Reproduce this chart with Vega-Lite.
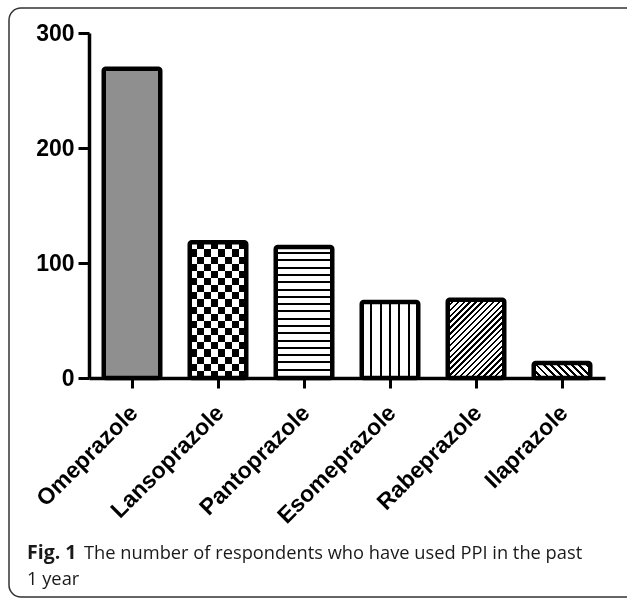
{
  "$schema": "https://vega.github.io/schema/vega-lite/v6.json",
  "width": 630,
  "height": 589,
  "autosize": {"type": "none"},
  "padding": {"left": 9, "top": 8, "right": -12, "bottom": 2},
  "background": "white",
  "config": {
    "view": {"stroke": "#333", "strokeWidth": 1.5, "cornerRadius": 12},
    "axis": {"grid": false}
  },
  "title": {
    "text": "Fig. 1",
    "subtitle": ["\u200b\u00a0\u00a0\u00a0\u00a0\u00a0\u00a0\u00a0\u00a0\u00a0\u00a0\u00a0\u00a0The number of respondents who have used PPI in the past", "1 year"],
    "orient": "bottom",
    "anchor": "start",
    "frame": "group",
    "offset": -53,
    "dx": 18,
    "baseline": "top",
    "font": "Open Sans",
    "fontSize": 19.5,
    "fontWeight": "bold",
    "color": "#1a1a1a",
    "subtitleFont": "Open Sans",
    "subtitleFontSize": 18.3,
    "subtitleFontWeight": "normal",
    "subtitleColor": "#1a1a1a",
    "subtitleLineHeight": 26,
    "subtitlePadding": -19
  },
  "data": {
    "values": [
      {"drug": "Omeprazole", "count": 269},
      {"drug": "Lansoprazole", "count": 118},
      {"drug": "Pantoprazole", "count": 114},
      {"drug": "Esomeprazole", "count": 66},
      {"drug": "Rabeprazole", "count": 68},
      {"drug": "Ilaprazole", "count": 13}
    ]
  },
  "encoding": {
    "x": {
      "field": "drug",
      "type": "nominal",
      "sort": null,
      "scale": {
        "domain": ["Omeprazole", "Lansoprazole", "Pantoprazole", "Esomeprazole", "Rabeprazole", "Ilaprazole"],
        "range": [80, 596],
        "paddingInner": 0.343,
        "paddingOuter": 0.1715
      },
      "axis": {
        "title": null,
        "orient": "bottom",
        "offset": -219,
        "domainColor": "black",
        "domainWidth": 3.5,
        "tickColor": "black",
        "tickWidth": 3,
        "tickSize": 10,
        "labelAngle": -45,
        "labelAlign": "right",
        "labelBaseline": "middle",
        "labelPadding": 21,
        "labelOffset": 2,
        "labelFont": "Liberation Sans",
        "labelFontWeight": "bold",
        "labelFontSize": 23,
        "labelColor": "black",
        "labelOverlap": false,
        "labelLimit": 0
      }
    },
    "y": {
      "field": "count",
      "type": "quantitative",
      "scale": {"domain": [0, 300], "range": [370, 25], "nice": false, "zero": true},
      "axis": {
        "title": null,
        "offset": -80,
        "values": [0, 100, 200, 300],
        "domainColor": "black",
        "domainWidth": 3.5,
        "tickColor": "black",
        "tickWidth": 3,
        "tickSize": 11,
        "labelPadding": 4,
        "labelFont": "Liberation Sans",
        "labelFontWeight": "bold",
        "labelFontSize": 23,
        "labelColor": "black"
      }
    },
    "y2": {"datum": 0}
  },
  "layer": [
    {
      "transform": [{"filter": "datum.drug === 'Omeprazole'"}],
      "mark": {"type": "bar", "fill": "#8f8f8f", "cornerRadius": 2}
    },
    {
      "transform": [{"filter": "datum.drug === 'Lansoprazole'"}],
      "mark": {"type": "bar", "cornerRadius": 2, "fill": {
        "gradient": "linear", "x1": 0, "y1": 0, "x2": 0, "y2": 1,
        "stops": [
          {"offset": 0, "color": "#000"}, {"offset": 0.05263, "color": "#000"},
          {"offset": 0.05263, "color": "#fff"}, {"offset": 0.10526, "color": "#fff"},
          {"offset": 0.10526, "color": "#000"}, {"offset": 0.15789, "color": "#000"},
          {"offset": 0.15789, "color": "#fff"}, {"offset": 0.21053, "color": "#fff"},
          {"offset": 0.21053, "color": "#000"}, {"offset": 0.26316, "color": "#000"},
          {"offset": 0.26316, "color": "#fff"}, {"offset": 0.31579, "color": "#fff"},
          {"offset": 0.31579, "color": "#000"}, {"offset": 0.36842, "color": "#000"},
          {"offset": 0.36842, "color": "#fff"}, {"offset": 0.42105, "color": "#fff"},
          {"offset": 0.42105, "color": "#000"}, {"offset": 0.47368, "color": "#000"},
          {"offset": 0.47368, "color": "#fff"}, {"offset": 0.52632, "color": "#fff"},
          {"offset": 0.52632, "color": "#000"}, {"offset": 0.57895, "color": "#000"},
          {"offset": 0.57895, "color": "#fff"}, {"offset": 0.63158, "color": "#fff"},
          {"offset": 0.63158, "color": "#000"}, {"offset": 0.68421, "color": "#000"},
          {"offset": 0.68421, "color": "#fff"}, {"offset": 0.73684, "color": "#fff"},
          {"offset": 0.73684, "color": "#000"}, {"offset": 0.78947, "color": "#000"},
          {"offset": 0.78947, "color": "#fff"}, {"offset": 0.84211, "color": "#fff"},
          {"offset": 0.84211, "color": "#000"}, {"offset": 0.89474, "color": "#000"},
          {"offset": 0.89474, "color": "#fff"}, {"offset": 0.94737, "color": "#fff"},
          {"offset": 0.94737, "color": "#000"}, {"offset": 1, "color": "#000"}
        ]}}
    },
    {
      "transform": [{"filter": "datum.drug === 'Lansoprazole'"}],
      "mark": {"type": "bar", "cornerRadius": 2, "blend": "difference", "fill": {
        "gradient": "linear", "x1": 0, "y1": 0, "x2": 1, "y2": 0,
        "stops": [
          {"offset": 0, "color": "#fff"}, {"offset": 0.125, "color": "#fff"},
          {"offset": 0.125, "color": "#000"}, {"offset": 0.25, "color": "#000"},
          {"offset": 0.25, "color": "#fff"}, {"offset": 0.375, "color": "#fff"},
          {"offset": 0.375, "color": "#000"}, {"offset": 0.5, "color": "#000"},
          {"offset": 0.5, "color": "#fff"}, {"offset": 0.625, "color": "#fff"},
          {"offset": 0.625, "color": "#000"}, {"offset": 0.75, "color": "#000"},
          {"offset": 0.75, "color": "#fff"}, {"offset": 0.875, "color": "#fff"},
          {"offset": 0.875, "color": "#000"}, {"offset": 1, "color": "#000"}
        ]}}
    },
    {
      "transform": [{"filter": "datum.drug === 'Pantoprazole'"}],
      "mark": {"type": "bar", "cornerRadius": 2, "fill": {
        "gradient": "linear", "x1": 0, "y1": 0, "x2": 0, "y2": 1,
        "stops": [
          {"offset": 0, "color": "#fff"}, {"offset": 0.04, "color": "#fff"}, {"offset": 0.04, "color": "#000"}, {"offset": 0.0556, "color": "#000"},
          {"offset": 0.0556, "color": "#fff"}, {"offset": 0.0956, "color": "#fff"}, {"offset": 0.0956, "color": "#000"}, {"offset": 0.1111, "color": "#000"},
          {"offset": 0.1111, "color": "#fff"}, {"offset": 0.1511, "color": "#fff"}, {"offset": 0.1511, "color": "#000"}, {"offset": 0.1667, "color": "#000"},
          {"offset": 0.1667, "color": "#fff"}, {"offset": 0.2067, "color": "#fff"}, {"offset": 0.2067, "color": "#000"}, {"offset": 0.2222, "color": "#000"},
          {"offset": 0.2222, "color": "#fff"}, {"offset": 0.2622, "color": "#fff"}, {"offset": 0.2622, "color": "#000"}, {"offset": 0.2778, "color": "#000"},
          {"offset": 0.2778, "color": "#fff"}, {"offset": 0.3178, "color": "#fff"}, {"offset": 0.3178, "color": "#000"}, {"offset": 0.3333, "color": "#000"},
          {"offset": 0.3333, "color": "#fff"}, {"offset": 0.3733, "color": "#fff"}, {"offset": 0.3733, "color": "#000"}, {"offset": 0.3889, "color": "#000"},
          {"offset": 0.3889, "color": "#fff"}, {"offset": 0.4289, "color": "#fff"}, {"offset": 0.4289, "color": "#000"}, {"offset": 0.4444, "color": "#000"},
          {"offset": 0.4444, "color": "#fff"}, {"offset": 0.4844, "color": "#fff"}, {"offset": 0.4844, "color": "#000"}, {"offset": 0.5, "color": "#000"},
          {"offset": 0.5, "color": "#fff"}, {"offset": 0.54, "color": "#fff"}, {"offset": 0.54, "color": "#000"}, {"offset": 0.5556, "color": "#000"},
          {"offset": 0.5556, "color": "#fff"}, {"offset": 0.5956, "color": "#fff"}, {"offset": 0.5956, "color": "#000"}, {"offset": 0.6111, "color": "#000"},
          {"offset": 0.6111, "color": "#fff"}, {"offset": 0.6511, "color": "#fff"}, {"offset": 0.6511, "color": "#000"}, {"offset": 0.6667, "color": "#000"},
          {"offset": 0.6667, "color": "#fff"}, {"offset": 0.7067, "color": "#fff"}, {"offset": 0.7067, "color": "#000"}, {"offset": 0.7222, "color": "#000"},
          {"offset": 0.7222, "color": "#fff"}, {"offset": 0.7622, "color": "#fff"}, {"offset": 0.7622, "color": "#000"}, {"offset": 0.7778, "color": "#000"},
          {"offset": 0.7778, "color": "#fff"}, {"offset": 0.8178, "color": "#fff"}, {"offset": 0.8178, "color": "#000"}, {"offset": 0.8333, "color": "#000"},
          {"offset": 0.8333, "color": "#fff"}, {"offset": 0.8733, "color": "#fff"}, {"offset": 0.8733, "color": "#000"}, {"offset": 0.8889, "color": "#000"},
          {"offset": 0.8889, "color": "#fff"}, {"offset": 0.9289, "color": "#fff"}, {"offset": 0.9289, "color": "#000"}, {"offset": 0.9444, "color": "#000"},
          {"offset": 0.9444, "color": "#fff"}, {"offset": 0.9844, "color": "#fff"}, {"offset": 0.9844, "color": "#000"}, {"offset": 1, "color": "#000"}
        ]}}
    },
    {
      "transform": [{"filter": "datum.drug === 'Esomeprazole'"}],
      "mark": {"type": "bar", "cornerRadius": 2, "fill": {
        "gradient": "linear", "x1": 0, "y1": 0, "x2": 1, "y2": 0,
        "stops": [
          {"offset": 0, "color": "#fff"}, {"offset": 0.1487, "color": "#fff"}, {"offset": 0.1487, "color": "#000"}, {"offset": 0.1847, "color": "#000"},
          {"offset": 0.1847, "color": "#fff"}, {"offset": 0.3153, "color": "#fff"}, {"offset": 0.3153, "color": "#000"}, {"offset": 0.3513, "color": "#000"},
          {"offset": 0.3513, "color": "#fff"}, {"offset": 0.482, "color": "#fff"}, {"offset": 0.482, "color": "#000"}, {"offset": 0.518, "color": "#000"},
          {"offset": 0.518, "color": "#fff"}, {"offset": 0.6487, "color": "#fff"}, {"offset": 0.6487, "color": "#000"}, {"offset": 0.6847, "color": "#000"},
          {"offset": 0.6847, "color": "#fff"}, {"offset": 0.8153, "color": "#fff"}, {"offset": 0.8153, "color": "#000"}, {"offset": 0.8513, "color": "#000"},
          {"offset": 0.8513, "color": "#fff"}, {"offset": 1, "color": "#fff"}
        ]}}
    },
    {
      "transform": [{"filter": "datum.drug === 'Rabeprazole'"}],
      "mark": {"type": "bar", "cornerRadius": 2, "fill": {
        "gradient": "linear", "x1": 0, "y1": 0, "x2": 0.8177, "y2": 1.1318,
        "stops": [
          {"offset": 0, "color": "#000"}, {"offset": 0.01739, "color": "#000"}, {"offset": 0.01739, "color": "#fff"}, {"offset": 0.04348, "color": "#fff"},
          {"offset": 0.04348, "color": "#000"}, {"offset": 0.06087, "color": "#000"}, {"offset": 0.06087, "color": "#fff"}, {"offset": 0.08696, "color": "#fff"},
          {"offset": 0.08696, "color": "#000"}, {"offset": 0.10435, "color": "#000"}, {"offset": 0.10435, "color": "#fff"}, {"offset": 0.13043, "color": "#fff"},
          {"offset": 0.13043, "color": "#000"}, {"offset": 0.14783, "color": "#000"}, {"offset": 0.14783, "color": "#fff"}, {"offset": 0.17391, "color": "#fff"},
          {"offset": 0.17391, "color": "#000"}, {"offset": 0.1913, "color": "#000"}, {"offset": 0.1913, "color": "#fff"}, {"offset": 0.21739, "color": "#fff"},
          {"offset": 0.21739, "color": "#000"}, {"offset": 0.23478, "color": "#000"}, {"offset": 0.23478, "color": "#fff"}, {"offset": 0.26087, "color": "#fff"},
          {"offset": 0.26087, "color": "#000"}, {"offset": 0.27826, "color": "#000"}, {"offset": 0.27826, "color": "#fff"}, {"offset": 0.30435, "color": "#fff"},
          {"offset": 0.30435, "color": "#000"}, {"offset": 0.32174, "color": "#000"}, {"offset": 0.32174, "color": "#fff"}, {"offset": 0.34783, "color": "#fff"},
          {"offset": 0.34783, "color": "#000"}, {"offset": 0.36522, "color": "#000"}, {"offset": 0.36522, "color": "#fff"}, {"offset": 0.3913, "color": "#fff"},
          {"offset": 0.3913, "color": "#000"}, {"offset": 0.4087, "color": "#000"}, {"offset": 0.4087, "color": "#fff"}, {"offset": 0.43478, "color": "#fff"},
          {"offset": 0.43478, "color": "#000"}, {"offset": 0.45217, "color": "#000"}, {"offset": 0.45217, "color": "#fff"}, {"offset": 0.47826, "color": "#fff"},
          {"offset": 0.47826, "color": "#000"}, {"offset": 0.49565, "color": "#000"}, {"offset": 0.49565, "color": "#fff"}, {"offset": 0.52174, "color": "#fff"},
          {"offset": 0.52174, "color": "#000"}, {"offset": 0.53913, "color": "#000"}, {"offset": 0.53913, "color": "#fff"}, {"offset": 0.56522, "color": "#fff"},
          {"offset": 0.56522, "color": "#000"}, {"offset": 0.58261, "color": "#000"}, {"offset": 0.58261, "color": "#fff"}, {"offset": 0.6087, "color": "#fff"},
          {"offset": 0.6087, "color": "#000"}, {"offset": 0.62609, "color": "#000"}, {"offset": 0.62609, "color": "#fff"}, {"offset": 0.65217, "color": "#fff"},
          {"offset": 0.65217, "color": "#000"}, {"offset": 0.66957, "color": "#000"}, {"offset": 0.66957, "color": "#fff"}, {"offset": 0.69565, "color": "#fff"},
          {"offset": 0.69565, "color": "#000"}, {"offset": 0.71304, "color": "#000"}, {"offset": 0.71304, "color": "#fff"}, {"offset": 0.73913, "color": "#fff"},
          {"offset": 0.73913, "color": "#000"}, {"offset": 0.75652, "color": "#000"}, {"offset": 0.75652, "color": "#fff"}, {"offset": 0.78261, "color": "#fff"},
          {"offset": 0.78261, "color": "#000"}, {"offset": 0.8, "color": "#000"}, {"offset": 0.8, "color": "#fff"}, {"offset": 0.82609, "color": "#fff"},
          {"offset": 0.82609, "color": "#000"}, {"offset": 0.84348, "color": "#000"}, {"offset": 0.84348, "color": "#fff"}, {"offset": 0.86957, "color": "#fff"},
          {"offset": 0.86957, "color": "#000"}, {"offset": 0.88696, "color": "#000"}, {"offset": 0.88696, "color": "#fff"}, {"offset": 0.91304, "color": "#fff"},
          {"offset": 0.91304, "color": "#000"}, {"offset": 0.93043, "color": "#000"}, {"offset": 0.93043, "color": "#fff"}, {"offset": 0.95652, "color": "#fff"},
          {"offset": 0.95652, "color": "#000"}, {"offset": 0.97391, "color": "#000"}, {"offset": 0.97391, "color": "#fff"}, {"offset": 1, "color": "#fff"}
        ]}}
    },
    {
      "transform": [{"filter": "datum.drug === 'Ilaprazole'"}],
      "mark": {"type": "bar", "cornerRadius": 2, "fill": {
        "gradient": "linear", "x1": 0, "y1": 1, "x2": 1.182, "y2": 0.686,
        "stops": [
          {"offset": 0, "color": "#000"}, {"offset": 0.04, "color": "#000"}, {"offset": 0.04, "color": "#fff"}, {"offset": 0.1, "color": "#fff"},
          {"offset": 0.1, "color": "#000"}, {"offset": 0.14, "color": "#000"}, {"offset": 0.14, "color": "#fff"}, {"offset": 0.2, "color": "#fff"},
          {"offset": 0.2, "color": "#000"}, {"offset": 0.24, "color": "#000"}, {"offset": 0.24, "color": "#fff"}, {"offset": 0.3, "color": "#fff"},
          {"offset": 0.3, "color": "#000"}, {"offset": 0.34, "color": "#000"}, {"offset": 0.34, "color": "#fff"}, {"offset": 0.4, "color": "#fff"},
          {"offset": 0.4, "color": "#000"}, {"offset": 0.44, "color": "#000"}, {"offset": 0.44, "color": "#fff"}, {"offset": 0.5, "color": "#fff"},
          {"offset": 0.5, "color": "#000"}, {"offset": 0.54, "color": "#000"}, {"offset": 0.54, "color": "#fff"}, {"offset": 0.6, "color": "#fff"},
          {"offset": 0.6, "color": "#000"}, {"offset": 0.64, "color": "#000"}, {"offset": 0.64, "color": "#fff"}, {"offset": 0.7, "color": "#fff"},
          {"offset": 0.7, "color": "#000"}, {"offset": 0.74, "color": "#000"}, {"offset": 0.74, "color": "#fff"}, {"offset": 0.8, "color": "#fff"},
          {"offset": 0.8, "color": "#000"}, {"offset": 0.84, "color": "#000"}, {"offset": 0.84, "color": "#fff"}, {"offset": 0.9, "color": "#fff"},
          {"offset": 0.9, "color": "#000"}, {"offset": 0.94, "color": "#000"}, {"offset": 0.94, "color": "#fff"}, {"offset": 1, "color": "#fff"}
        ]}}
    },
    {
      "mark": {"type": "bar", "filled": false, "stroke": "black", "strokeWidth": 4.5, "cornerRadius": 2}
    }
  ]
}
